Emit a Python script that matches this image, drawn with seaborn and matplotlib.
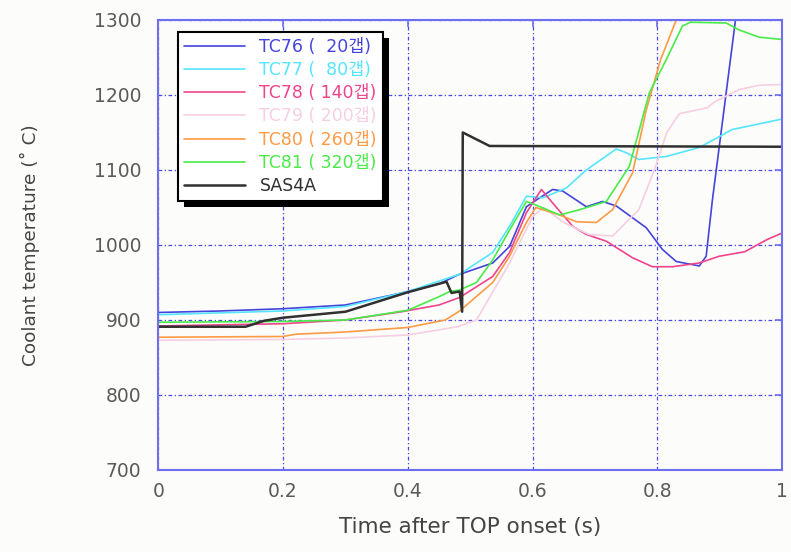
import numpy as np
import pandas as pd
import matplotlib
matplotlib.use("Agg")
import matplotlib.pyplot as plt
from matplotlib.patches import Rectangle
from matplotlib.transforms import IdentityTransform
from matplotlib.ticker import FuncFormatter
import seaborn as sns

# Thermocouple readings (time in s, coolant temperature in deg C)
x_tc76 = [0, 0.1, 0.2, 0.3, 0.39, 0.45, 0.48, 0.536, 0.563, 0.59, 0.606, 0.632, 0.648,
          0.686, 0.712, 0.734, 0.782, 0.808, 0.83, 0.867, 0.878, 0.888, 0.905, 0.925, 0.95, 1.0]
y_tc76 = [910, 912, 915, 920, 936, 948, 960, 976, 998, 1051, 1060, 1074, 1072,
          1051, 1058, 1052, 1023, 994, 978, 972, 985, 1060, 1170, 1300, 1320, 1320]

x_tc77 = [0, 0.2, 0.3, 0.4, 0.483, 0.536, 0.563, 0.59, 0.617, 0.654, 0.686, 0.734,
          0.75, 0.77, 0.814, 0.867, 0.92, 1.0]
y_tc77 = [907, 912, 918, 938, 961, 990, 1025, 1065, 1063, 1076, 1100, 1128,
          1123, 1114, 1118, 1130, 1154, 1168]

x_tc78 = [0, 0.2, 0.3, 0.39, 0.45, 0.483, 0.536, 0.563, 0.59, 0.614, 0.632, 0.664,
          0.686, 0.718, 0.76, 0.792, 0.824, 0.867, 0.899, 0.94, 0.975, 1.0]
y_tc78 = [892, 895, 900, 911, 920, 930, 958, 990, 1043, 1074, 1056, 1025,
          1014, 1005, 983, 971, 971, 976, 985, 991, 1007, 1016]

x_tc79 = [0, 0.2, 0.3, 0.4, 0.48, 0.51, 0.563, 0.6, 0.617, 0.65, 0.69, 0.728, 0.77,
          0.795, 0.815, 0.835, 0.88, 0.89, 0.93, 0.963, 1.0]
y_tc79 = [873, 874, 876, 880, 891, 900, 976, 1038, 1050, 1030, 1014, 1012, 1047,
          1100, 1150, 1175, 1183, 1190, 1207, 1213, 1214]

x_tc80 = [0, 0.2, 0.22, 0.3, 0.4, 0.46, 0.483, 0.536, 0.563, 0.59, 0.605, 0.643,
          0.67, 0.702, 0.728, 0.76, 0.782, 0.805, 0.83, 0.86]
y_tc80 = [877, 878, 881, 884, 890, 900, 912, 950, 985, 1030, 1050, 1040,
          1031, 1030, 1047, 1096, 1180, 1247, 1300, 1330]

x_tc81 = [0, 0.2, 0.3, 0.4, 0.45, 0.467, 0.483, 0.51, 0.536, 0.563, 0.59, 0.606,
          0.643, 0.675, 0.718, 0.755, 0.787, 0.814, 0.84, 0.853, 0.91, 0.93, 0.963, 1.0]
y_tc81 = [897, 898, 900, 913, 931, 938, 940, 950, 980, 1020, 1058, 1053,
          1040, 1047, 1058, 1105, 1203, 1247, 1292, 1297, 1296, 1287, 1277, 1274]

# SAS4A code prediction
x_sas = [0, 0.14, 0.17, 0.2, 0.3, 0.4, 0.462, 0.47, 0.483, 0.487, 0.488, 0.531, 1.0]
y_sas = [891, 891, 899, 903, 911, 937, 951, 936, 938, 911, 1150, 1132, 1131]

labels = ["TC76 (  20갭)", "TC77 (  80갭)", "TC78 ( 140갭)", "TC79 ( 200갭)",
          "TC80 ( 260갭)", "TC81 ( 320갭)", "SAS4A"]
colors = ["#4444dd", "#55e6ff", "#f0448c", "#f6cfe2", "#ff9a45", "#48ec48", "#303030"]
series = [(x_tc76, y_tc76), (x_tc77, y_tc77), (x_tc78, y_tc78), (x_tc79, y_tc79),
          (x_tc80, y_tc80), (x_tc81, y_tc81), (x_sas, y_sas)]

x_ticks = [0, 0.2, 0.4, 0.6, 0.8, 1.0]
y_ticks = [700, 800, 900, 1000, 1100, 1200, 1300]

sns.set_style("white")
fonts = ["DejaVu Sans", "Noto Sans CJK KR"]
plt.rcParams["font.family"] = fonts

bg = "#fcfcfa"
frame_blue = "#6e6ef0"
grid_blue = "#4a4ae6"
text_gray = "#5a5a5a"

fig = plt.figure(figsize=(7.91, 5.52), dpi=100, facecolor=bg)
ax = fig.add_axes([0.2, 0.1486, 0.789, 0.8152])
ax.set_facecolor(bg)

for (xs, ys), lab, col in zip(series, labels, colors):
    lw = 1.8 if lab == "SAS4A" else 1.2
    sns.lineplot(x=xs, y=ys, ax=ax, color=col, label=lab, lw=lw,
                 estimator=None, sort=False)

ax.set_xlim(0, 1)
ax.set_ylim(700, 1300)
ax.set_xticks(x_ticks)
ax.set_yticks(y_ticks)
ax.xaxis.set_major_formatter(FuncFormatter(lambda v, p: f"{v:g}"))
ax.grid(True, color=grid_blue, lw=0.9, linestyle=(0, (3, 2, 1, 2)))
for s in ax.spines.values():
    s.set_color(frame_blue)
    s.set_linewidth(1.5)
ax.tick_params(axis="both", direction="in", length=5, width=1.2, color=frame_blue,
               labelcolor=text_gray, labelsize=13.5, top=True, right=True)
ax.tick_params(axis="x", pad=9)
ax.tick_params(axis="y", pad=12)

ax.set_xlabel("Time after TOP onset (s)", fontsize=15.5, color="#444444")
ax.set_ylabel("Coolant temperature (˚ C)", fontsize=13.3, color="#444444")
ax.xaxis.set_label_coords(0.5, -0.105)
ax.yaxis.set_label_coords(-0.19, 0.5)

leg = ax.legend(loc="upper left", bbox_to_anchor=(0.032, 0.973), borderaxespad=0,
                labelcolor="linecolor", frameon=True, fancybox=False,
                handlelength=3.5, handletextpad=0.85, labelspacing=0.3,
                borderpad=0.33, framealpha=1, prop={"family": fonts, "size": 12.5})
leg.get_frame().set_edgecolor("black")
leg.get_frame().set_linewidth(1.5)
leg.get_frame().set_facecolor("white")
leg.set_zorder(6)

# Solid drop shadow behind the legend box
fig.canvas.draw()
bb = leg.get_window_extent()
shadow = Rectangle((bb.x0 + 6, bb.y0 - 6), bb.width, bb.height, transform=IdentityTransform(),
                   facecolor="black", edgecolor="none", zorder=5.9, clip_on=False)
ax.add_patch(shadow)

fig.savefig("out.png", dpi=100, facecolor=bg)
